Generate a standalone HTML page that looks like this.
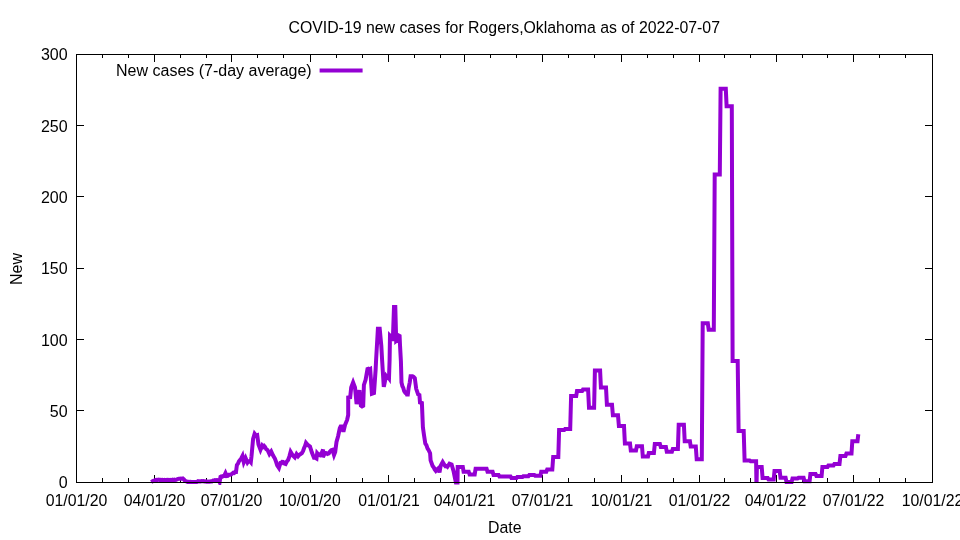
<!DOCTYPE html>
<html><head><meta charset="utf-8"><style>
html,body{margin:0;padding:0;background:#fff}
svg{display:block;will-change:transform}
.t{filter:grayscale(1)}
text{font-family:"Liberation Sans",sans-serif;font-size:15.85px;fill:#000}
</style></head><body>
<svg width="960" height="540" viewBox="0 0 960 540">
<defs><clipPath id="pc"><rect x="76" y="50" width="857" height="435"/></clipPath></defs>
<rect width="960" height="540" fill="#fff"/>
<g class="t"><text x="76.5" y="506" text-anchor="middle">01/01/20</text><text x="154.5" y="506" text-anchor="middle">04/01/20</text><text x="231.5" y="506" text-anchor="middle">07/01/20</text><text x="309.9" y="506" text-anchor="middle">10/01/20</text><text x="389.0" y="506" text-anchor="middle">01/01/21</text><text x="464.5" y="506" text-anchor="middle">04/01/21</text><text x="542.5" y="506" text-anchor="middle">07/01/21</text><text x="621.5" y="506" text-anchor="middle">10/01/21</text><text x="699.5" y="506" text-anchor="middle">01/01/22</text><text x="775.5" y="506" text-anchor="middle">04/01/22</text><text x="853.5" y="506" text-anchor="middle">07/01/22</text><text x="932.5" y="506" text-anchor="middle">10/01/22</text></g>
<g class="t"><text x="67.6" y="488" text-anchor="end" style="font-size:16px">0</text><text x="67.6" y="417" text-anchor="end" style="font-size:16px">50</text><text x="67.6" y="346" text-anchor="end" style="font-size:16px">100</text><text x="67.6" y="274" text-anchor="end" style="font-size:16px">150</text><text x="67.6" y="203" text-anchor="end" style="font-size:16px">200</text><text x="67.6" y="132" text-anchor="end" style="font-size:16px">250</text><text x="67.6" y="60" text-anchor="end" style="font-size:16px">300</text></g>
<g class="t">
<text x="504.2" y="33.2" text-anchor="middle">COVID-19 new cases for Rogers,Oklahoma as of 2022-07-07</text>
<text x="504.8" y="533.3" text-anchor="middle">Date</text>
<text transform="translate(22,269) rotate(-90)" text-anchor="middle" style="font-size:16px">New</text>
<text x="311.7" y="76" text-anchor="end" style="font-size:16px">New cases (7-day average)</text>
</g>
<path d="M319.6,70.5H362.6" stroke="#9400d3" stroke-width="4" fill="none"/>
<path d="M76.5,483V475M76.5,54V62M102.5,483V478M102.5,54V58M128.5,483V478M128.5,54V58M154.5,483V475M154.5,54V62M180.5,483V478M180.5,54V58M206.5,483V478M206.5,54V58M231.5,483V475M231.5,54V62M257.5,483V478M257.5,54V58M283.5,483V478M283.5,54V58M310.5,483V475M310.5,54V62M336.5,483V478M336.5,54V58M362.5,483V478M362.5,54V58M388.5,483V475M388.5,54V62M414.5,483V478M414.5,54V58M440.5,483V478M440.5,54V58M464.5,483V475M464.5,54V62M490.5,483V478M490.5,54V58M516.5,483V478M516.5,54V58M542.5,483V475M542.5,54V62M568.5,483V478M568.5,54V58M594.5,483V478M594.5,54V58M621.5,483V475M621.5,54V62M647.5,483V478M647.5,54V58M673.5,483V478M673.5,54V58M699.5,483V475M699.5,54V62M724.5,483V478M724.5,54V58M750.5,483V478M750.5,54V58M776.5,483V475M776.5,54V62M802.5,483V478M802.5,54V58M827.5,483V478M827.5,54V58M853.5,483V475M853.5,54V62M879.5,483V478M879.5,54V58M905.5,483V478M905.5,54V58M932.5,483V475M932.5,54V62M76,482.5H84M933,482.5H925M76,410.5H84M933,410.5H925M76,339.5H84M933,339.5H925M76,268.5H84M933,268.5H925M76,196.5H84M933,196.5H925M76,125.5H84M933,125.5H925M76,54.5H84M933,54.5H925" stroke="#000" stroke-width="1" fill="none" shape-rendering="crispEdges"/>
<g clip-path="url(#pc)"><path d="M151.2,482.1L152.5,481.3L153.8,480.6L154.8,480.4L155.8,479.9L156.9,479.8L157.8,479.9L158.8,479.6L159.7,480.0L160.6,479.8L161.6,480.0L162.5,479.8L163.4,480.1L164.4,479.9L165.3,480.1L166.2,480.0L167.2,479.8L168.1,480.2L169.0,479.9L169.9,480.1L170.8,479.8L171.7,480.2L172.6,479.7L173.5,480.1L174.4,479.7L175.3,480.0L176.2,479.9L177.5,479.1L178.8,478.8L179.8,478.8L180.8,478.5L181.8,478.7L182.8,478.5L183.7,479.2L184.7,480.4L185.6,481.0L187.5,481.9L188.4,481.8L189.4,482.0L190.3,481.8L191.2,482.0L192.2,481.9L193.1,482.0L194.1,481.9L195.0,482.0L195.9,481.9L196.9,482.0L198.1,481.2L199.0,481.4L199.8,481.2L200.7,481.4L201.6,481.1L202.4,481.3L203.3,481.1L204.1,481.4L205.0,481.2L206.2,481.6L207.2,481.5L208.1,481.7L209.1,481.5L210.0,481.7L210.9,481.4L211.9,481.5L213.1,480.5L214.0,480.6L214.9,480.2L215.8,480.4L216.7,480.1L217.6,480.4L218.5,480.1L219.6,482.2L220.5,476.9L221.4,476.4L222.4,476.6L223.3,475.9L224.2,475.8L225.5,473.1L226.8,476.0L227.8,475.9L228.9,474.8L230.0,474.8L231.2,474.4L232.5,473.5L233.4,472.7L234.2,472.9L235.1,471.9L236.0,471.9L236.9,465.0L237.9,463.8L239.0,461.2L240.0,460.0L241.2,458.5L242.5,456.0L243.8,462.2L245.6,458.1L247.5,462.5L248.6,461.1L249.8,461.0L250.8,462.2L251.5,456.2L253.1,438.8L254.6,433.8L256.0,435.6L257.2,435.2L258.5,444.4L260.5,449.8L262.2,445.6L263.2,446.8L264.1,445.9L265.0,446.9L266.2,449.1L267.5,450.0L269.4,454.0L271.2,451.5L273.1,455.6L275.0,458.8L276.1,461.9L277.2,465.5L278.9,468.0L280.4,463.1L281.3,463.2L282.2,461.8L283.1,461.9L284.4,463.6L285.6,464.0L286.9,461.4L288.1,460.0L289.4,456.3L290.6,451.9L292.8,455.6L294.8,457.5L296.5,454.0L298.1,456.2L299.4,454.7L300.6,454.0L301.9,453.1L303.1,451.0L304.1,448.0L305.0,446.0L306.0,442.8L308.1,445.2L310.0,446.5L311.9,452.5L314.0,457.8L315.2,457.8L316.5,458.5L317.2,453.1L318.5,454.5L319.8,455.2L321.9,452.5L323.1,449.4L322.9,457.2L325.0,452.8L326.2,453.1L327.5,454.0L328.8,453.4L330.0,451.5L331.2,450.3L332.5,449.8L334.0,455.0L335.2,451.9L336.5,441.9L338.1,436.2L339.8,428.1L340.6,426.5L342.2,426.5L343.4,431.9L345.0,425.0L347.1,420.0L348.2,415.0L348.2,397.5L350.2,397.2L351.2,387.5L353.1,382.5L355.0,387.5L356.6,404.0L357.5,399.8L358.5,394.3L359.4,390.2L360.9,405.6L362.1,406.5L363.2,405.9L363.9,385.0L365.6,379.8L367.5,369.0L368.4,368.7L369.3,369.5L370.2,369.0L371.9,393.8L374.0,393.1L375.6,370.0L376.1,360.0L377.9,328.7L379.7,328.7L381.3,345.6L382.1,360.0L383.8,386.9L385.0,381.0L386.2,376.2L387.2,377.6L388.1,376.8L389.0,378.1L389.6,360.0L390.0,335.6L391.5,337.0L392.8,341.0L394.0,307.0L395.3,307.0L396.2,341.0L397.5,340.0L398.9,335.6L399.6,336.0L400.0,345.0L400.9,361.2L401.5,382.5L402.4,386.2L403.3,387.9L404.2,391.2L405.1,392.5L406.0,392.3L406.9,394.4L407.8,394.4L408.7,387.5L409.7,382.6L410.6,376.2L412.5,376.2L413.6,376.8L414.8,378.1L416.2,388.8L418.1,394.4L419.4,395.0L420.0,402.5L421.9,403.1L422.9,427.4L424.1,435.8L425.3,443.5L426.4,445.2L427.5,448.3L428.5,449.9L430.1,453.2L430.6,460.4L432.6,466.0L433.6,467.2L434.7,469.5L435.8,470.9L437.0,469.5L438.2,468.5L439.5,472.5L440.6,466.0L442.7,462.0L444.6,465.2L445.5,466.2L446.5,466.0L447.4,466.8L449.5,463.6L451.6,464.4L453.5,470.9L454.7,476.9L455.9,482.5L457.5,482.5L457.7,466.9L462.8,466.9L463.6,471.7L468.7,471.7L469.6,474.4L474.7,474.4L475.6,468.8L480.7,468.8L481.5,468.8L486.6,468.8L487.5,471.8L492.6,471.8L493.5,474.9L498.6,474.9L499.4,476.4L504.6,476.4L505.4,476.4L510.5,476.4L511.4,478.0L516.5,478.0L517.3,477.0L522.5,477.0L523.3,476.2L528.4,476.2L529.3,475.0L534.4,475.0L535.2,475.8L540.4,475.8L541.2,471.8L546.3,471.8L547.2,469.4L552.3,469.4L553.2,456.9L558.3,456.9L559.1,430.1L564.2,430.1L565.1,428.9L570.2,428.9L571.1,396.0L576.2,396.0L577.0,391.1L582.1,391.1L583.0,389.4L588.1,389.4L589.0,407.8L594.1,407.8L594.9,370.6L600.1,370.6L600.9,387.5L606.0,387.5L606.9,404.7L612.0,404.7L612.9,415.3L618.0,415.3L618.9,425.9L624.0,425.9L624.9,443.5L630.0,443.5L630.8,450.6L636.0,450.6L636.8,446.2L642.0,446.2L642.8,456.5L648.0,456.5L648.8,452.9L653.9,452.9L654.8,444.0L659.9,444.0L660.8,447.1L665.9,447.1L666.8,451.8L671.9,451.8L672.8,448.9L677.9,448.9L678.7,424.7L683.9,424.7L684.7,441.2L689.9,441.2L690.7,446.6L695.8,446.6L696.7,459.3L701.8,459.3L702.7,323.2L707.8,323.2L708.7,329.8L713.8,329.8L714.7,174.5L719.8,174.5L720.6,88.8L725.8,88.8L726.6,106.2L731.8,106.2L732.6,360.9L737.7,360.9L738.6,431.0L743.7,431.0L744.6,460.6L749.7,460.6L750.6,461.2L755.7,461.2L756.1,461.2L756.4,482.6M756.6,482.6L756.9,466.9L761.7,466.9L762.6,478.1L767.7,478.1L768.5,479.4L773.7,479.4L774.5,471.0L779.7,471.0L780.5,477.8L785.6,477.8L786.5,481.9L791.6,481.9L792.5,478.4L797.6,478.4L798.5,477.8L803.6,477.8L804.5,481.3L809.6,481.3L810.4,474.1L815.6,474.1L816.4,475.9L821.6,475.9L822.4,466.9L827.5,466.9L828.4,465.4L833.5,465.4L834.4,463.9L839.5,463.9L840.4,455.9L845.5,455.9L846.4,453.5L851.5,453.5L852.3,441.3L857.5,441.3L858.3,434.2" stroke="#9400d3" stroke-width="4" fill="none" stroke-linejoin="miter" stroke-miterlimit="3.8" stroke-linecap="butt"/></g>
<rect x="76.5" y="54.5" width="856.0" height="428.0" fill="none" stroke="#000" stroke-width="1" shape-rendering="crispEdges"/>
</svg>
</body></html>
